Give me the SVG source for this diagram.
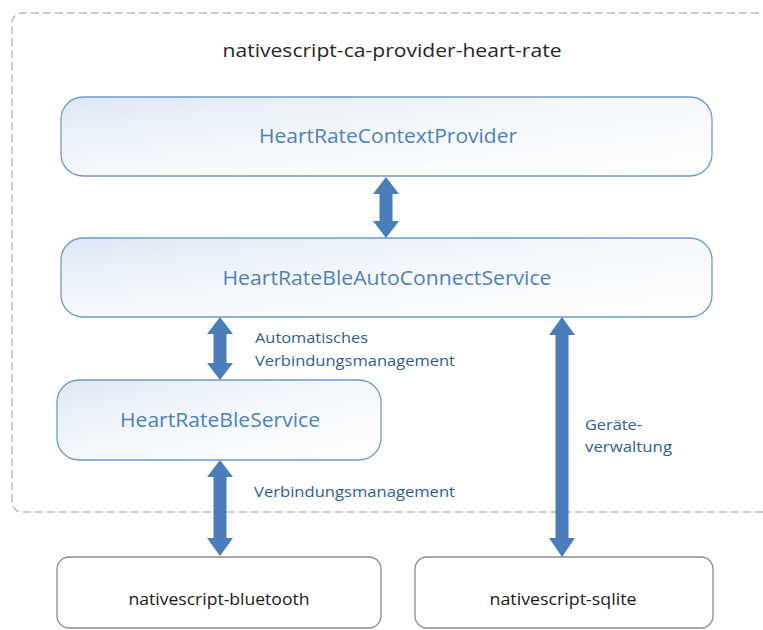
<svg xmlns="http://www.w3.org/2000/svg" width="763" height="630" viewBox="0 0 763 630">
  <defs>
    <linearGradient id="boxFill" x1="0" y1="0" x2="1" y2="1">
      <stop offset="0" stop-color="#DDE8F5"/>
      <stop offset="0.45" stop-color="#F4F8FC"/>
      <stop offset="1" stop-color="#FFFFFF"/>
    </linearGradient>
  </defs>
  <style>
    .container { fill: none; stroke: #BDBDBD; stroke-width: 1.5; stroke-dasharray: 8 4; }
    .inner { fill: url(#boxFill); stroke: #6F9AD0; stroke-width: 1.3; }
    .outer { fill: #FFFFFF; stroke: #8C8C8C; stroke-width: 1.3; }
    .arrow { fill: #4A7DBA; stroke: none; }
    .title { font-family: "Open Sans", "Liberation Sans", sans-serif; font-size: 19px; fill: #262626; text-anchor: middle; }
    .inlabel { font-family: "Open Sans", "Liberation Sans", sans-serif; fill: #4F81BD; text-anchor: middle; }
    .outlabel { font-family: "Open Sans", "Liberation Sans", sans-serif; font-size: 16px; fill: #1A1A1A; text-anchor: middle; }
    .edgelabel { font-family: "Open Sans", "Liberation Sans", sans-serif; font-size: 14.5px; fill: #2F5E96; }
  </style>
  <rect width="763" height="630" fill="#FFFFFF"/>

  <g id="container">
    <path class="container" d="M 775 512 H 22 A 10 10 0 0 1 12 502 V 23 A 10 10 0 0 1 22 13 H 775"/>
    <text class="title" x="392" y="57" textLength="339" lengthAdjust="spacingAndGlyphs">nativescript-ca-provider-heart-rate</text>
  </g>

  <g id="HeartRateContextProvider">
    <rect class="inner" x="61" y="97" width="651" height="79" rx="22"/>
    <text class="inlabel" x="388" y="143" font-size="20" textLength="258" lengthAdjust="spacingAndGlyphs">HeartRateContextProvider</text>
  </g>

  <g id="HeartRateBleAutoConnectService">
    <rect class="inner" x="61" y="238" width="651" height="79" rx="22"/>
    <text class="inlabel" x="387" y="285" font-size="20" textLength="329" lengthAdjust="spacingAndGlyphs">HeartRateBleAutoConnectService</text>
  </g>

  <g id="HeartRateBleService">
    <rect class="inner" x="57" y="380" width="324" height="80" rx="22"/>
    <text class="inlabel" x="220" y="427" font-size="20" textLength="200" lengthAdjust="spacingAndGlyphs">HeartRateBleService</text>
  </g>

  <g id="nativescript-bluetooth">
    <rect class="outer" x="57" y="557" width="324" height="71" rx="12"/>
    <text class="outlabel" x="219" y="605" textLength="181" lengthAdjust="spacingAndGlyphs">nativescript-bluetooth</text>
  </g>

  <g id="nativescript-sqlite">
    <rect class="outer" x="415" y="557" width="298" height="71" rx="12"/>
    <text class="outlabel" x="563" y="605" textLength="147" lengthAdjust="spacingAndGlyphs">nativescript-sqlite</text>
  </g>

  <g id="connectors">
    <polygon class="arrow" points="386,177 399,194 392.5,194 392.5,221 399,221 386,238 373,221 379.5,221 379.5,194 373,194"/>
    <polygon class="arrow" points="220,317 233,334 226.5,334 226.5,363 233,363 220,380 207,363 213.5,363 213.5,334 207,334"/>
    <polygon class="arrow" points="220,460 233,477 226.5,477 226.5,538 233,538 220,556 207,538 213.5,538 213.5,477 207,477"/>
    <polygon class="arrow" points="562,317 575,335 568.5,335 568.5,538 575,538 562,557 549,538 555.5,538 555.5,335 549,335"/>
    <text class="edgelabel" x="255" y="343" textLength="113" lengthAdjust="spacingAndGlyphs">Automatisches</text>
    <text class="edgelabel" x="255" y="366" textLength="200" lengthAdjust="spacingAndGlyphs">Verbindungsmanagement</text>
    <text class="edgelabel" x="254" y="497" textLength="201" lengthAdjust="spacingAndGlyphs">Verbindungsmanagement</text>
    <text class="edgelabel" x="585" y="430" textLength="57" lengthAdjust="spacingAndGlyphs">Geräte-</text>
    <text class="edgelabel" x="585" y="452" textLength="87" lengthAdjust="spacingAndGlyphs">verwaltung</text>
  </g>
</svg>
